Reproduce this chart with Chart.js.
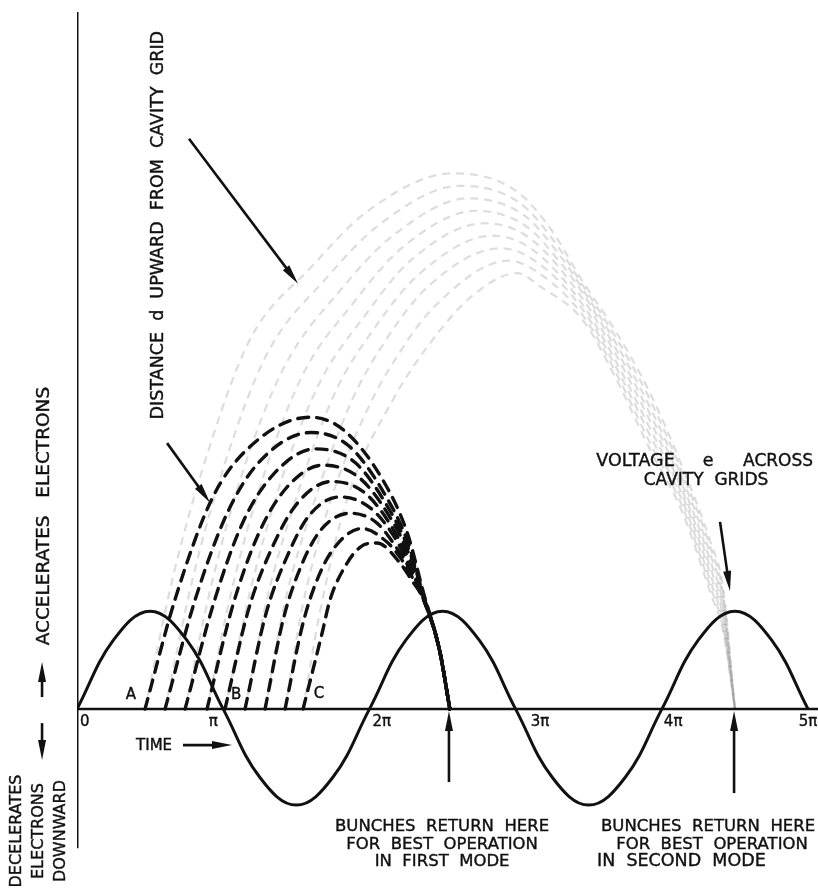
<!DOCTYPE html>
<html>
<head>
<meta charset="utf-8">
<script src="https://cdn.jsdelivr.net/npm/chart.js@4.4.1/dist/chart.umd.min.js"></script>
<style>
  body { margin: 0; background: #fff; }
</style>
</head>
<body>
<canvas id="chart" width="818" height="888"></canvas>
<script>
// x is in units of pi, y in units of the cavity voltage amplitude
const tickLabels = ['0', 'π', '2π', '3π', '4π', '5π'];
const tickValues = [0, 1, 2, 3, 4, 5];

// voltage e across cavity grids, read every quarter of pi
const voltageX = [0, 0.25, 0.5, 0.75, 1, 1.25, 1.5, 1.75, 2, 2.25, 2.5, 2.75, 3, 3.25, 3.5, 3.75, 4, 4.25, 4.5, 4.75, 5];
const voltageY = [0, 0.72, 1.02, 0.72, 0, -0.71, -1.0, -0.71, 0, 0.72, 1.02, 0.72, 0, -0.71, -1.0, -0.71, 0, 0.72, 1.02, 0.72, 0];

// electron paths, first mode (black dashes), from A to C
const firstMode = [
  [[0.465,0],[0.67,1.14],[0.92,2.18],[1.16,2.70],[1.594,3.04],[1.82,2.91],[2.09,2.39],[2.26,1.83],[2.37,1.21],[2.48,0.61],[2.55,0]],
  [[0.602,0],[0.80,1.10],[1.03,2.05],[1.25,2.58],[1.60,2.88],[1.86,2.74],[2.10,2.25],[2.26,1.75],[2.37,1.19],[2.48,0.61],[2.55,0]],
  [[0.739,0],[0.93,1.08],[1.13,1.93],[1.34,2.44],[1.63,2.71],[1.90,2.57],[2.12,2.12],[2.27,1.66],[2.37,1.18],[2.48,0.61],[2.55,0]],
  [[0.889,0],[1.06,1.05],[1.24,1.82],[1.43,2.30],[1.68,2.54],[1.93,2.41],[2.14,2.00],[2.28,1.58],[2.37,1.17],[2.48,0.61],[2.55,0]],
  [[1.012,0],[1.17,1.02],[1.34,1.70],[1.51,2.15],[1.74,2.37],[1.97,2.25],[2.16,1.88],[2.28,1.52],[2.37,1.16],[2.48,0.61],[2.55,0]],
  [[1.149,0],[1.29,0.98],[1.44,1.60],[1.59,2.02],[1.80,2.21],[2.01,2.09],[2.18,1.77],[2.28,1.47],[2.37,1.15],[2.48,0.61],[2.55,0]],
  [[1.286,0],[1.41,0.93],[1.53,1.48],[1.67,1.87],[1.87,2.04],[2.05,1.94],[2.19,1.67],[2.29,1.42],[2.37,1.15],[2.48,0.61],[2.55,0]],
  [[1.423,0],[1.54,0.86],[1.63,1.30],[1.75,1.66],[1.95,1.88],[2.12,1.74],[2.21,1.58],[2.29,1.38],[2.37,1.14],[2.48,0.61],[2.55,0]],
  [[1.546,0],[1.676,0.79],[1.73,1.135],[1.82,1.45],[1.94,1.69],[2.05,1.73],[2.21,1.52],[2.29,1.34],[2.37,1.14],[2.48,0.61],[2.55,0]]
];

// electron paths, second mode (faint grey dashes)
const secondMode = [
  [[0.465,0],[0.66,1.4],[0.90,2.7],[1.18,3.84],[1.60,4.60],[2.00,5.20],[2.57,5.58],[3.00,5.40],[3.24,5.00],[3.46,4.45],[3.69,3.92],[3.92,3.29],[4.14,2.52],[4.33,1.75],[4.42,1.25],[4.50,0]],
  [[0.602,0],[0.79,1.35],[1.02,2.6],[1.30,3.70],[1.70,4.48],[2.08,5.06],[2.62,5.45],[3.03,5.27],[3.26,4.88],[3.46,4.41],[3.69,3.86],[3.92,3.22],[4.14,2.46],[4.33,1.69],[4.42,1.19],[4.50,0]],
  [[0.739,0],[0.92,1.3],[1.14,2.5],[1.42,3.57],[1.80,4.36],[2.16,4.93],[2.68,5.32],[3.06,5.14],[3.28,4.77],[3.46,4.37],[3.69,3.80],[3.92,3.14],[4.14,2.40],[4.33,1.62],[4.42,1.13],[4.50,0]],
  [[0.889,0],[1.06,1.25],[1.27,2.4],[1.54,3.47],[1.89,4.23],[2.22,4.80],[2.73,5.19],[3.08,5.02],[3.30,4.66],[3.46,4.33],[3.69,3.74],[3.92,3.07],[4.14,2.34],[4.33,1.55],[4.42,1.07],[4.50,0]],
  [[1.012,0],[1.18,1.2],[1.38,2.3],[1.65,3.37],[1.97,4.10],[2.28,4.67],[2.79,5.06],[3.10,4.90],[3.46,4.27],[3.69,3.68],[3.92,3.00],[4.14,2.28],[4.33,1.48],[4.42,1.01],[4.50,0]],
  [[1.149,0],[1.30,1.15],[1.50,2.2],[1.76,3.28],[2.04,3.98],[2.34,4.53],[2.84,4.93],[3.12,4.78],[3.46,4.21],[3.69,3.61],[3.92,2.92],[4.14,2.23],[4.33,1.41],[4.42,0.95],[4.50,0]],
  [[1.286,0],[1.42,1.1],[1.61,2.1],[1.87,3.18],[2.12,3.86],[2.40,4.40],[2.90,4.80],[3.14,4.66],[3.46,4.16],[3.69,3.55],[3.92,2.85],[4.14,2.17],[4.33,1.34],[4.42,0.89],[4.50,0]],
  [[1.423,0],[1.54,1.05],[1.73,2.15],[1.98,3.10],[2.20,3.70],[2.45,4.20],[2.95,4.67],[3.16,4.54],[3.46,4.10],[3.69,3.49],[3.92,2.77],[4.14,2.11],[4.33,1.28],[4.42,0.84],[4.50,0]],
  [[1.546,0],[1.66,1.0],[1.85,2.2],[2.16,3.22],[2.46,3.90],[2.70,4.30],[3.01,4.54],[3.17,4.40],[3.46,4.05],[3.69,3.43],[3.92,2.70],[4.14,2.05],[4.33,1.22],[4.42,0.80],[4.50,0]]
];

const X_MAX = 5.068, Y_MIN = -1.78, Y_MAX = 7.26;

const FONT = '"DejaVu Sans", sans-serif';

// labels placed in data units; rot = vertical text reading upward
const notes = [
  { text: 'DISTANCE  d  UPWARD  FROM  CAVITY  GRID', x: 0.554, y: 5.04, rot: true, size: 17.5 },
  { text: 'ACCELERATES   ELECTRONS', x: -0.226, y: 2.01, rot: true, size: 18.5 },
  { text: 'DECELERATES', x: -0.41, y: -1.27, rot: true, size: 16 },
  { text: 'ELECTRONS', x: -0.26, y: -1.27, rot: true, size: 16 },
  { text: 'DOWNWARD', x: -0.109, y: -1.27, rot: true, size: 16 },
  { text: 'TIME', x: 0.527, y: -0.385, size: 15 },
  { text: 'A', x: 0.369, y: 0.146, size: 15 },
  { text: 'B', x: 1.088, y: 0.146, size: 15 },
  { text: 'C', x: 1.655, y: 0.156, size: 15 },
  { text: 'VOLTAGE', x: 3.82, y: 2.58, size: 17.5 },
  { text: 'e', x: 4.316, y: 2.58, size: 17.5 },
  { text: 'ACROSS', x: 4.795, y: 2.58, size: 17 },
  { text: 'CAVITY  GRIDS', x: 4.302, y: 2.375, size: 17 },
  { text: 'BUNCHES  RETURN  HERE', x: 2.497, y: -1.22, size: 16.5 },
  { text: 'FOR  BEST  OPERATION', x: 2.497, y: -1.41, size: 16.5 },
  { text: 'IN  FIRST  MODE', x: 2.497, y: -1.59, size: 16.5 },
  { text: 'BUNCHES  RETURN  HERE', x: 4.316, y: -1.22, size: 16.5 },
  { text: 'FOR  BEST  OPERATION', x: 4.343, y: -1.41, size: 16.5 },
  { text: 'IN  SECOND  MODE', x: 3.557, y: -1.59, size: 17.5, align: 'left' }
];

const arrows = [
  [[0.766, 5.94], [1.512, 4.43]],
  [[0.616, 2.77], [0.910, 2.15]],
  [[4.398, 1.95], [4.466, 1.23]],
  [[2.544, -0.76], [2.544, -0.02]],
  [[4.494, -0.875], [4.494, -0.02]],
  [[0.725, -0.375], [1.06, -0.375]],
  [[-0.239, 0.125], [-0.239, 0.49]],
  [[-0.239, -0.146], [-0.239, -0.53]]
];

// tick label nudges in pixels: [dx, align]
const tickNudge = [[3, 'left'], [-10, 'center'], [3, 'left'], [15, 'left'], [2, 'left'], [0, 'center']];

const notesPlugin = {
  id: 'notes',
  afterDraw(chart) {
    const { ctx, scales: { x, y } } = chart;
    ctx.save();
    ctx.fillStyle = '#111';
    ctx.strokeStyle = '#111';

    // axis tick labels
    ctx.font = '15px ' + FONT;
    ctx.textBaseline = 'middle';
    ctx.lineWidth = 0.4;
    tickValues.forEach((v, i) => {
      ctx.textAlign = tickNudge[i][1];
      const tx = x.getPixelForValue(v) + tickNudge[i][0], ty = y.getPixelForValue(0) + 13;
      ctx.fillText(tickLabels[i], tx, ty);
      ctx.strokeText(tickLabels[i], tx, ty);
    });

    notes.forEach(n => {
      const px = x.getPixelForValue(n.x), py = y.getPixelForValue(n.y);
      ctx.font = n.size + 'px ' + FONT;
      ctx.textAlign = n.align || 'center';
      ctx.textBaseline = 'middle';
      ctx.save();
      ctx.translate(px, py);
      if (n.rot) ctx.rotate(-Math.PI / 2);
      ctx.fillText(n.text, 0, 0);
      ctx.strokeText(n.text, 0, 0);
      ctx.restore();
    });

    // arrows with filled heads
    arrows.forEach(([a, b]) => {
      const x1 = x.getPixelForValue(a[0]), y1 = y.getPixelForValue(a[1]);
      const x2 = x.getPixelForValue(b[0]), y2 = y.getPixelForValue(b[1]);
      const ang = Math.atan2(y2 - y1, x2 - x1);
      const len = 20, half = 4;
      ctx.lineWidth = 2.6;
      ctx.beginPath();
      ctx.moveTo(x1, y1);
      ctx.lineTo(x2 - Math.cos(ang) * len * 0.6, y2 - Math.sin(ang) * len * 0.6);
      ctx.stroke();
      ctx.beginPath();
      ctx.moveTo(x2, y2);
      ctx.lineTo(x2 - Math.cos(ang) * len - Math.sin(ang) * half, y2 - Math.sin(ang) * len + Math.cos(ang) * half);
      ctx.lineTo(x2 - Math.cos(ang) * len + Math.sin(ang) * half, y2 - Math.sin(ang) * len - Math.cos(ang) * half);
      ctx.closePath();
      ctx.fill();
    });
    ctx.restore();
  }
};

const datasets = [];

// axes drawn as plain lines
datasets.push({ data: [[0, -1.45], [0, Y_MAX]], borderColor: '#111', borderWidth: 3, order: 0 });
datasets.push({ data: [[0, 0], [X_MAX, 0]], borderColor: '#111', borderWidth: 2.5, order: 0 });

datasets.push({
  data: voltageX.map((v, i) => [v, voltageY[i]]),
  borderColor: '#111', borderWidth: 3, tension: 0.4, order: 1
});

firstMode.forEach(path => datasets.push({
  data: path, borderColor: '#111', borderWidth: 3.4, borderDash: [11, 8], borderCapStyle: 'round',
  cubicInterpolationMode: 'monotone', order: 2
}));

secondMode.forEach(path => datasets.push({
  data: path, borderColor: 'rgba(150,150,150,0.32)', borderWidth: 2.2, borderDash: [8, 6],
  cubicInterpolationMode: 'monotone', order: 3
}));

new Chart(document.getElementById('chart').getContext('2d'), {
  type: 'line',
  data: { datasets: datasets },
  options: {
    responsive: false,
    animation: false,
    events: [],
    layout: { padding: { left: 77, top: 12, right: 0, bottom: 8 } },
    elements: { point: { radius: 0 } },
    plugins: { legend: { display: false }, tooltip: { enabled: false } },
    scales: {
      x: { type: 'linear', min: 0, max: X_MAX, display: false },
      y: { type: 'linear', min: Y_MIN, max: Y_MAX, display: false }
    }
  },
  plugins: [notesPlugin]
});
</script>
</body>
</html>
